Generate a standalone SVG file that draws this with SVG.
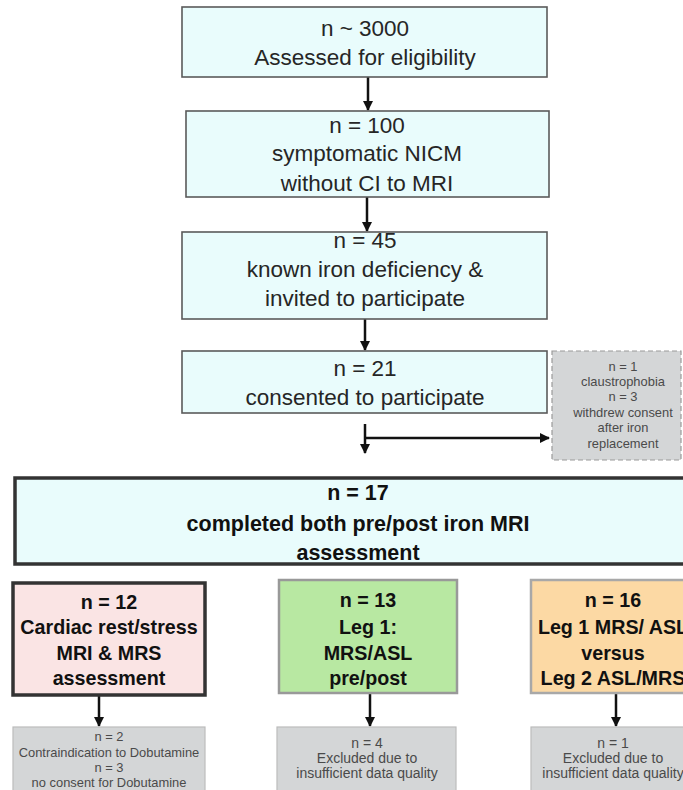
<svg xmlns="http://www.w3.org/2000/svg" width="683" height="790" viewBox="0 0 683 790">
<style>
.cy{fill:#e9fcfc;stroke:#5a5a5a;stroke-width:1.6}
.t{font-family:"Liberation Sans",Arial,sans-serif;font-size:22.5px;fill:#262626;text-anchor:middle}
.b{font-family:"Liberation Sans",Arial,sans-serif;font-weight:bold;font-size:19.7px;fill:#111;text-anchor:middle}
.b2{font-family:"Liberation Sans",Arial,sans-serif;font-weight:bold;font-size:21.5px;fill:#111;text-anchor:middle}
.g{fill:#d4d6d7;stroke:#bcbcbc;stroke-width:1.2}
.s{font-family:"Liberation Sans",Arial,sans-serif;font-size:12.9px;fill:#4a4a4a;text-anchor:middle}
.s2{font-family:"Liberation Sans",Arial,sans-serif;font-size:14px;fill:#4a4a4a;text-anchor:middle}
.c{stroke:#111;stroke-width:2.5;fill:none;marker-end:url(#ah)}
</style>
<defs>
<marker id="ah" viewBox="0 0 10 10" refX="9" refY="5" markerWidth="4" markerHeight="4" orient="auto" markerUnits="strokeWidth">
<path d="M0,0 L10,5 L0,10 z" fill="#111"/>
</marker>
</defs>
<rect width="683" height="790" fill="#fff"/>
<g id="connectors">
<line class="c" x1="368" y1="77" x2="368" y2="110"/>
<line class="c" x1="367" y1="197" x2="367" y2="231"/>
<line class="c" x1="365" y1="319" x2="365" y2="350"/>
<line class="c" x1="365" y1="424" x2="365" y2="453"/>
<line class="c" x1="364" y1="438" x2="549" y2="438"/>
<line class="c" x1="99" y1="695" x2="99" y2="726"/>
<line class="c" x1="370" y1="693" x2="370" y2="726"/>
<line class="c" x1="616" y1="693" x2="616" y2="726"/>
</g>
<g id="n3000">
<rect class="cy" x="182" y="7" width="365" height="70"/>
<text class="t" x="365" y="36">n ~ 3000</text>
<text class="t" x="365" y="65">Assessed for eligibility</text>
</g>
<g id="n100">
<rect class="cy" x="186" y="111" width="363" height="86"/>
<text class="t" x="367" y="133">n = 100</text>
<text class="t" x="367" y="161">symptomatic NICM</text>
<text class="t" x="367" y="191">without CI to MRI</text>
</g>
<g id="n45">
<rect class="cy" x="182" y="232" width="365" height="87"/>
<text class="t" x="365" y="248">n = 45</text>
<text class="t" x="365" y="277">known iron deficiency &amp;</text>
<text class="t" x="365" y="306">invited to participate</text>
</g>
<g id="n21">
<rect class="cy" x="182" y="351" width="365" height="62"/>
<text class="t" x="365" y="376">n = 21</text>
<text class="t" x="365" y="405">consented to participate</text>
</g>
<g id="excluded1">
<rect x="552" y="351" width="129" height="109" fill="#d4d6d7" stroke="#9a9a9a" stroke-width="1.2" stroke-dasharray="5,3"/>
<text class="s" x="623" y="371">n = 1</text>
<text class="s" x="623" y="386">claustrophobia</text>
<text class="s" x="623" y="401">n = 3</text>
<text class="s" x="623" y="417">withdrew consent</text>
<text class="s" x="623" y="432">after iron</text>
<text class="s" x="623" y="448">replacement</text>
</g>
<g id="n17">
<rect x="15" y="478" width="686" height="86" fill="#e9fcfc" stroke="#333" stroke-width="3.5"/>
<text class="b2" x="358" y="500">n = 17</text>
<text class="b2" x="358" y="531">completed both pre/post iron MRI</text>
<text class="b2" x="358" y="560">assessment</text>
</g>
<g id="n12">
<rect x="13" y="583" width="192" height="112" fill="#fae4e4" stroke="#333" stroke-width="3.5"/>
<text class="b" x="109" y="609">n = 12</text>
<text class="b" x="109" y="634">Cardiac rest/stress</text>
<text class="b" x="109" y="660">MRI &amp; MRS</text>
<text class="b" x="109" y="685">assessment</text>
</g>
<g id="n13">
<rect x="279" y="580" width="178" height="113" fill="#b8e8a2" stroke="#999" stroke-width="2.5"/>
<text class="b" x="368" y="607">n = 13</text>
<text class="b" x="368" y="634">Leg 1:</text>
<text class="b" x="368" y="660">MRS/ASL</text>
<text class="b" x="368" y="685">pre/post</text>
</g>
<g id="n16">
<rect x="531" y="580" width="166" height="113" fill="#fcd9a4" stroke="#a8a8a8" stroke-width="2.5"/>
<text class="b" x="613" y="607">n = 16</text>
<text class="b" x="613" y="634">Leg 1 MRS/ ASL</text>
<text class="b" x="613" y="660">versus</text>
<text class="b" x="613" y="685">Leg 2 ASL/MRS</text>
</g>
<g id="excluded12">
<rect class="g" x="13" y="727" width="192" height="70"/>
<text class="s" x="109" y="741">n = 2</text>
<text class="s" x="109" y="757">Contraindication to Dobutamine</text>
<text class="s" x="109" y="772">n = 3</text>
<text class="s" x="109" y="787">no consent for Dobutamine</text>
</g>
<g id="excluded13">
<rect class="g" x="277" y="727" width="179" height="70"/>
<text class="s2" x="367" y="748">n = 4</text>
<text class="s2" x="367" y="763">Excluded due to</text>
<text class="s2" x="367" y="778">insufficient data quality</text>
</g>
<g id="excluded16">
<rect class="g" x="531" y="727" width="160" height="70"/>
<text class="s2" x="613" y="748">n = 1</text>
<text class="s2" x="613" y="763">Excluded due to</text>
<text class="s2" x="613" y="778">insufficient data quality</text>
</g>
</svg>
